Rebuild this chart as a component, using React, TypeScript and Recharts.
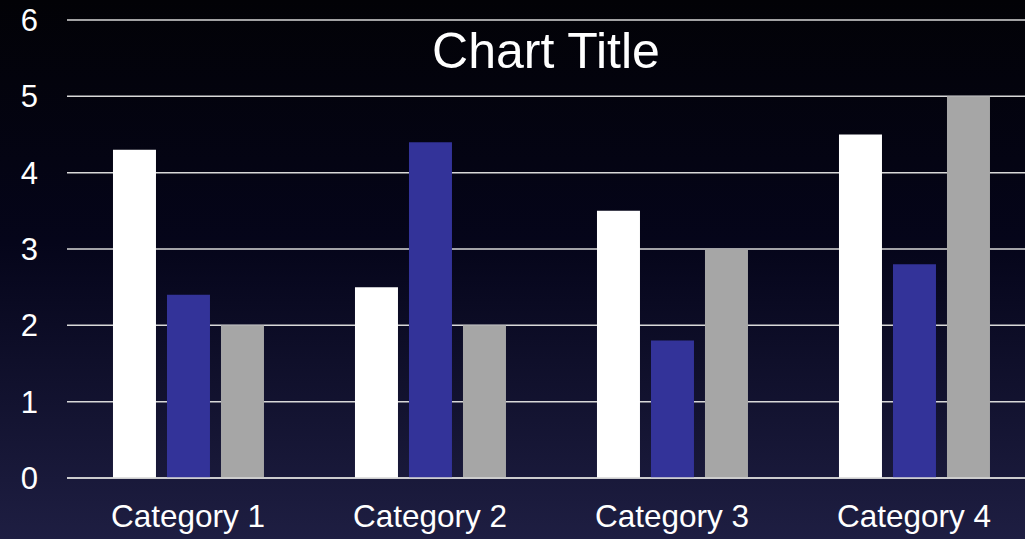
import React from "react";
import { BarChart, Bar, XAxis, YAxis, CartesianGrid } from "recharts";

const categories = ["Category 1", "Category 2", "Category 3", "Category 4"];
const series1 = [4.3, 2.5, 3.5, 4.5];
const series2 = [2.4, 4.4, 1.8, 2.8];
const series3 = [2.0, 2.0, 3.0, 5.0];
const yTicks = [0, 1, 2, 3, 4, 5, 6];
const title = "Chart Title";

const data = categories.map((c, i) => ({
  name: c,
  s1: series1[i],
  s2: series2[i],
  s3: series3[i],
}));

export default function App() {
  const font = "'Liberation Sans', Arial, sans-serif";
  return (
    <div
      style={{
        position: "absolute",
        left: 0,
        top: 0,
        width: 1025,
        height: 539,
        background: "linear-gradient(to bottom, #020206 0%, #05051a 45%, #1e1e42 100%)",
        fontFamily: font,
        overflow: "hidden",
      }}
    >
      <BarChart
        width={1035}
        height={539}
        data={data}
        margin={{ top: 20, right: 0, bottom: 0, left: 0 }}
        barCategoryGap="19%"
        barGap={11}
      >
        <CartesianGrid
          vertical={false}
          stroke="#d9d9d9"
          strokeWidth={1.5}
        />
        <XAxis
          dataKey="name"
          height={61}
          tickLine={false}
          axisLine={{ stroke: "#d9d9d9", strokeWidth: 1.5 }}
          tickSize={0}
          tickMargin={27}
          tick={{ fill: "#ffffff", fontSize: 31.5, fontFamily: font }}
          interval={0}
        />
        <YAxis
          width={67}
          domain={[0, 6]}
          ticks={yTicks}
          tickLine={false}
          axisLine={false}
          tickSize={0}
          tickMargin={29}
          tick={{ fill: "#ffffff", fontSize: 31, fontFamily: font }}
          interval={0}
        />
        <Bar dataKey="s1" fill="#ffffff" isAnimationActive={false} />
        <Bar dataKey="s2" fill="#333399" isAnimationActive={false} />
        <Bar dataKey="s3" fill="#a6a6a6" isAnimationActive={false} />
      </BarChart>
      <div
        style={{
          position: "absolute",
          left: 67,
          width: 958,
          top: 23,
          textAlign: "center",
          color: "#ffffff",
          fontSize: 50,
          lineHeight: "56px",
          fontFamily: font,
        }}
      >
        {title}
      </div>
    </div>
  );
}
